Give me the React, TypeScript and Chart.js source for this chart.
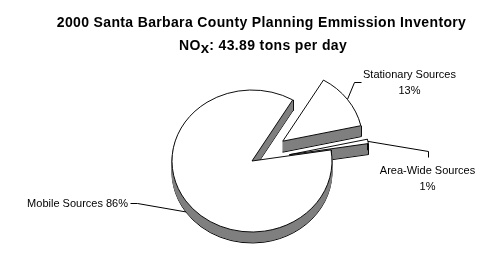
import React, { useEffect, useRef } from "react";
import { Chart, registerables } from "chart.js";

Chart.register(...registerables);

// ---- data ----
const TITLE = "2000 Santa Barbara County Planning Emmission Inventory";
const SUBTITLE_MAIN = "NO";
const SUBTITLE_SUB = "x";
const SUBTITLE_REST = ": 43.89 tons per day";
const categories = ["Mobile Sources", "Stationary Sources", "Area-Wide Sources"];
const shares = [86, 13, 1];
const pctLabels = ["86%", "13%", "1%"];

// ---- style ----
const explode = [0, 38, 38];
const DEPTH = 11;
const TILT = 0.8875;
const SIDE = "#808080";
const EDGE = "#000000";
const LABEL_FONT = '11px "Liberation Sans", Arial, sans-serif';

type LabelLayout = {
  lines: string[];
  x: number;
  ys: number[];
  align: CanvasTextAlign;
  onSide: boolean;
  path: [number, number][];
};

const labelLayout: LabelLayout[] = [
  {
    lines: [`${categories[0]} ${pctLabels[0]}`],
    x: 128,
    ys: [207],
    align: "right",
    onSide: true,
    path: [[137, 203], [130, 203]],
  },
  {
    lines: [categories[1], pctLabels[1]],
    x: 409.5,
    ys: [78, 94],
    align: "center",
    onSide: false,
    path: [[354, 82], [361, 82]],
  },
  {
    lines: [categories[2], pctLabels[2]],
    x: 427.5,
    ys: [173.5, 189.5],
    align: "center",
    onSide: false,
    path: [[428, 151], [428, 157]],
  },
];

const pie3d = {
  id: "pie3d",
  afterDatasetUpdate(chart: any, args: any) {
    const meta = args.meta;
    meta.data.forEach((el: any, i: number) => {
      const d = explode[i] || 0;
      if (!d) return;
      const mid = (el.startAngle + el.endAngle) / 2;
      el.x += Math.cos(mid) * d;
      el.y += Math.sin(mid) * d;
    });
  },
  beforeDatasetsDraw(chart: any) {
    const { ctx, chartArea } = chart;
    const cy = (chartArea.top + chartArea.bottom) / 2;
    ctx.save();
    ctx.translate(0, cy * (1 - TILT));
    ctx.scale(1, TILT);
    const els = chart.getDatasetMeta(0).data;
    for (let i = DEPTH; i >= 1; i--) {
      ctx.save();
      ctx.translate(0, i / TILT);
      els.forEach((el: any) => {
        const orig = el.options;
        el.options = {
          ...orig,
          backgroundColor: SIDE,
          borderColor: i === DEPTH ? EDGE : SIDE,
          borderWidth: 1,
        };
        el.draw(ctx);
        el.options = orig;
      });
      ctx.restore();
    }
    // vertical wall corners (top faces drawn afterwards hide the hidden ones)
    ctx.strokeStyle = EDGE;
    ctx.lineWidth = 1;
    els.forEach((el: any) => {
      [el.startAngle, el.endAngle].forEach((a: number) => {
        const px = Math.round(el.x + Math.cos(a) * el.outerRadius) + 0.5;
        const py = el.y + Math.sin(a) * el.outerRadius;
        ctx.beginPath();
        ctx.moveTo(px, py);
        ctx.lineTo(px, py + DEPTH / TILT);
        ctx.stroke();
      });
    });
  },
  afterDatasetsDraw(chart: any) {
    const { ctx, chartArea } = chart;
    ctx.restore();
    const cy = (chartArea.top + chartArea.bottom) / 2;
    const els = chart.getDatasetMeta(0).data;
    ctx.save();
    ctx.strokeStyle = "#000";
    ctx.lineWidth = 1;
    ctx.fillStyle = "#000";
    ctx.font = LABEL_FONT;
    ctx.textBaseline = "alphabetic";
    els.forEach((el: any, i: number) => {
      const L = labelLayout[i];
      if (!L) return;
      const mid = (el.startAngle + el.endAngle) / 2;
      const r = el.outerRadius;
      const ax = el.x + Math.cos(mid) * r;
      const ayc = el.y + Math.sin(mid) * r;
      const ay = cy + TILT * (ayc - cy) + (L.onSide ? DEPTH : 0);
      ctx.beginPath();
      ctx.moveTo(ax, ay);
      L.path.forEach(([x, y]) => ctx.lineTo(x + 0.5, y + 0.5));
      ctx.stroke();
      ctx.textAlign = L.align;
      L.lines.forEach((t, j) => ctx.fillText(t, L.x, L.ys[j]));
    });
    ctx.restore();
  },
  afterDraw(chart: any) {
    const { ctx } = chart;
    ctx.save();
    ctx.fillStyle = "#000";
    ctx.textBaseline = "alphabetic";
    (ctx as any).letterSpacing = "0.35px";
    ctx.font = 'bold 14px "Liberation Sans", Arial, sans-serif';
    ctx.textAlign = "center";
    ctx.fillText(TITLE, 261.5, 27);
    ctx.textAlign = "left";
    const mainFont = 'bold 14px "Liberation Sans", Arial, sans-serif';
    const subFont = 'bold 15px "Liberation Sans", Arial, sans-serif';
    ctx.font = mainFont;
    const w1 = ctx.measureText(SUBTITLE_MAIN).width;
    const w3 = ctx.measureText(SUBTITLE_REST).width;
    ctx.font = subFont;
    const w2 = ctx.measureText(SUBTITLE_SUB).width;
    let x = 263 - (w1 + w2 + w3) / 2;
    ctx.font = mainFont;
    ctx.fillText(SUBTITLE_MAIN, x, 50);
    x += w1;
    ctx.font = subFont;
    ctx.fillText(SUBTITLE_SUB, x, 53);
    x += w2;
    ctx.font = mainFont;
    ctx.fillText(SUBTITLE_REST, x, 50);
    ctx.restore();
  },
};

export default function App() {
  const ref = useRef<HTMLCanvasElement | null>(null);
  useEffect(() => {
    if (!ref.current) return;
    const chart = new Chart(ref.current, {
      type: "pie",
      data: {
        labels: categories,
        datasets: [
          {
            data: shares,
            backgroundColor: "#ffffff",
            borderColor: "#000000",
            borderWidth: 1,
            radius: 80,
            offset: 0,
            hoverOffset: 0,
            clip: false as any,
          } as any,
        ],
      },
      options: {
        responsive: false,
        animation: false,
        devicePixelRatio: 1,
        rotation: 81,
        events: [],
        layout: { padding: { left: 4, right: 0, top: 64, bottom: 0 } },
        plugins: {
          legend: { display: false },
          title: { display: false },
          tooltip: { enabled: false },
        },
      },
      plugins: [pie3d as any],
    });
    return () => chart.destroy();
  }, []);
  return (
    <div style={{ position: "absolute", left: 0, top: 0, width: 500, height: 258, background: "#fff" }}>
      <canvas ref={ref} width={500} height={258} style={{ display: "block" }} />
    </div>
  );
}
